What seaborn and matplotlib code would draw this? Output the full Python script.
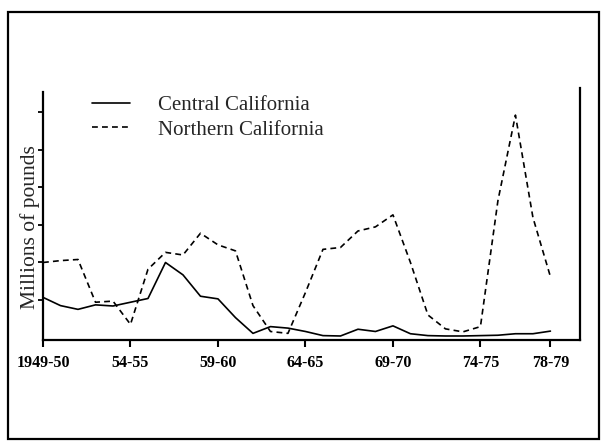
import pandas as pd
import numpy as np
import matplotlib.pyplot as plt
import seaborn as sns
from matplotlib.patches import Rectangle

# season start years, 1949-50 .. 1978-79
years = list(range(1949, 1979))
central = [1.07, 0.85, 0.75, 0.87, 0.84, 0.94, 1.04, 2.00, 1.67, 1.10,
           1.03, 0.53, 0.11, 0.29, 0.25, 0.16, 0.05, 0.04, 0.22, 0.16,
           0.31, 0.10, 0.05, 0.04, 0.04, 0.05, 0.06, 0.10, 0.10, 0.17]
northern = [2.00, 2.05, 2.08, 0.94, 0.97, 0.35, 1.82, 2.27, 2.20, 2.78,
            2.47, 2.31, 0.85, 0.16, 0.11, 1.20, 2.35, 2.40, 2.84, 2.95,
            3.27, 2.00, 0.60, 0.23, 0.15, 0.29, 3.65, 5.93, 3.20, 1.62]
tick_years = [1949, 1954, 1959, 1964, 1969, 1974, 1978]
tick_labels = ["1949-50", "54-55", "59-60", "64-65", "69-70", "74-75", "78-79"]

df = pd.DataFrame({"year": years, "Central California": central,
                   "Northern California": northern})

sns.set_style("white")
plt.rcParams["font.family"] = ["Liberation Serif", "DejaVu Serif"]

fig = plt.figure(figsize=(6.04, 4.44), dpi=100)
ax = fig.add_axes([43 / 604, 104 / 444, 537 / 604, 252 / 444])

sns.lineplot(data=df, x="year", y="Central California", ax=ax,
             color="black", linewidth=1.2, label="Central California")
sns.lineplot(data=df, x="year", y="Northern California", ax=ax,
             color="black", linewidth=1.2, linestyle=(0, (3.5, 2.5)),
             label="Northern California")

ax.set_xlim(1949, 1949 + 30.69)
ax.set_ylim(-0.067, 6.653)
ax.set_xticks(tick_years)
ax.set_xticklabels(tick_labels, fontweight="bold", fontsize=11.5)
ax.set_yticks([1, 2, 3, 4, 5, 6])
ax.set_yticklabels([])
ax.set_xlabel("")
ax.set_ylabel("Millions of pounds", fontsize=15.5)
ax.yaxis.set_label_coords(-0.006, 0.45)

ax.tick_params(axis="x", direction="out", length=5, width=1.5, pad=6,
               bottom=True, colors="black")
ax.tick_params(axis="y", direction="out", length=3.5, width=1.3,
               left=True, colors="black")

for side in ["left", "bottom", "right"]:
    ax.spines[side].set_visible(True)
    ax.spines[side].set_color("black")
    ax.spines[side].set_linewidth(1.6)
ax.spines["top"].set_visible(False)
ax.spines["left"].set_bounds(-0.067, 6.55)

leg = ax.legend(loc="center left", bbox_to_anchor=(92 / 604, 1 - 117.5 / 444),
                bbox_transform=fig.transFigure, frameon=False, fontsize=15,
                handlelength=1.8, handletextpad=1.35, labelspacing=0.25,
                borderpad=0, borderaxespad=0)

# outer frame around the whole panel
fig.patches.append(Rectangle((8 / 604, 5 / 444), 591 / 604, 427 / 444,
                             transform=fig.transFigure, fill=False,
                             edgecolor="black", linewidth=1.6))

plt.savefig("out.png", dpi=100)
plt.close()
